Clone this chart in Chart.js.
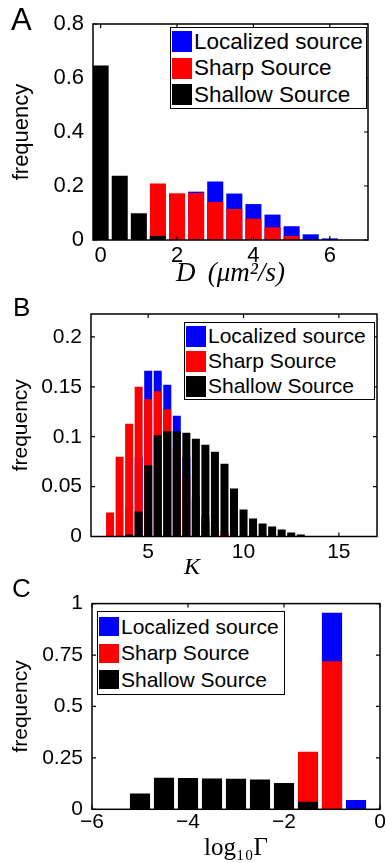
<!DOCTYPE html>
<html lang="en">
  <head>
    <meta charset="UTF-8" />
    <title>Source histograms</title>
    <style>
      body {
        margin: 0;
        background: #fff;
      }
      .wrap {
        position: relative;
        width: 386px;
        height: 863px;
      }
      .wrap canvas {
        position: absolute;
        left: 0;
      }
      .letter {
        position: absolute;
        font-family: "Liberation Sans", Arial, sans-serif;
        line-height: 1;
        color: #000;
      }
      .legend {
        position: absolute;
        box-sizing: border-box;
        background: #fff;
        border: 1.5px solid #000;
        font-family: "Liberation Sans", Arial, sans-serif;
        color: #000;
      }
      .legend ul {
        list-style: none;
        margin: 0;
        padding: 0 0 0 1px;
        height: 100%;
        display: flex;
        flex-direction: column;
        justify-content: space-evenly;
      }
      .legend li {
        display: flex;
        align-items: center;
        white-space: nowrap;
      }
      .legend .sw {
        display: inline-block;
        width: 20px;
        height: 21px;
        margin-right: 2px;
      }
      #legendA { left: 170px; top: 27px; width: 197px; height: 82px; font-size: 22.5px; }
      #legendB { left: 184px; top: 322px; width: 191px; height: 78px; font-size: 21px; }
      #legendC { left: 97px; top: 611px; width: 188px; height: 84px; font-size: 21px; }
      #legendC .sw { height: 19px; }
    </style>
    <script src="https://cdn.jsdelivr.net/npm/chart.js"></script>
  </head>
  <body>
    <div class="wrap">
      <canvas id="chartA" width="386" height="290" style="top: 0"></canvas>
      <canvas id="chartB" width="386" height="292" style="top: 290px"></canvas>
      <canvas id="chartC" width="386" height="281" style="top: 582px"></canvas>
      <div class="letter" style="left: 11px; top: 4px; font-size: 31px">A</div>
      <div class="letter" style="left: 13px; top: 294px; font-size: 26px">B</div>
      <div class="letter" style="left: 12px; top: 575px; font-size: 26px">C</div>
      <div class="legend" id="legendA"></div>
      <div class="legend" id="legendB"></div>
      <div class="legend" id="legendC"></div>
    </div>
    <script>
      const seriesNames = ["Localized source", "Sharp Source", "Shallow Source"];
      const seriesColors = ["#0000ff", "#ff0000", "#000000"];

      // A: diffusion coefficient D
      const binsA = [0, 0.5, 1, 1.5, 2, 2.5, 3, 3.5, 4, 4.5, 5, 5.5, 6];
      const localizedA = [0, 0, 0, 0.04, 0.09, 0.179, 0.217, 0.172, 0.133, 0.094, 0.051, 0.021, 0.006];
      const sharpA = [0, 0, 0, 0.209, 0.173, 0.174, 0.141, 0.115, 0.079, 0.047, 0.015, 0, 0];
      const shallowA = [0.646, 0.238, 0.099, 0.015, 0, 0, 0, 0, 0, 0, 0, 0, 0];
      const xTicksA = [0, 2, 4, 6];
      const yTicksA = [0, 0.2, 0.4, 0.6, 0.8];

      // B: K
      const binsB = [3, 3.5, 4, 4.5, 5, 5.5, 6, 6.5, 7, 7.5, 8, 8.5, 9, 9.5, 10, 10.5, 11, 11.5, 12, 12.5, 13];
      const localizedB = [0, 0, 0.03, 0.08, 0.166, 0.166, 0.152, 0.121, 0.08, 0.04, 0.015, 0.005, 0, 0, 0, 0, 0, 0, 0, 0, 0];
      const sharpB = [0.024, 0.08, 0.113, 0.15, 0.1375, 0.1455, 0.1275, 0.09, 0.06, 0.035, 0.02, 0.01, 0.005, 0, 0, 0, 0, 0, 0, 0, 0];
      const shallowB = [0, 0, 0.002, 0.025, 0.0715, 0.1015, 0.1055, 0.1055, 0.104, 0.098, 0.092, 0.085, 0.073, 0.048, 0.027, 0.018, 0.013, 0.01, 0.007, 0.004, 0.002];
      const xTicksB = [5, 10, 15];
      const yTicksB = [0, 0.05, 0.1, 0.15, 0.2];

      // C: log10 Gamma
      const binsC = [-5, -4.5, -4, -3.5, -3, -2.5, -2, -1.5, -1, -0.5];
      const localizedC = [0, 0, 0, 0, 0, 0, 0, 0, 0.955, 0.045];
      const sharpC = [0, 0, 0, 0, 0, 0, 0, 0.28, 0.72, 0];
      const shallowC = [0.077, 0.153, 0.152, 0.15, 0.149, 0.145, 0.128, 0.037, 0, 0];
      const xTicksC = [-6, -4, -2, 0];
      const yTicksC = [0, 0.25, 0.5, 0.75, 1];

      const sans = "'Liberation Sans', Arial, sans-serif";
      const serif = "'Liberation Serif', 'DejaVu Serif', serif";

      // matlab-like box with ticks pointing inwards on all four sides
      const boxAxes = {
        id: "boxAxes",
        afterDatasetsDraw(chart) {
          const { ctx, chartArea, scales } = chart;
          const { left, right, top, bottom } = chartArea;
          const len = 4;
          ctx.save();
          ctx.strokeStyle = "#000";
          ctx.lineWidth = 1.2;
          ctx.beginPath();
          scales.x.ticks.forEach((t) => {
            const px = scales.x.getPixelForValue(t.value);
            ctx.moveTo(px, bottom);
            ctx.lineTo(px, bottom - len);
            ctx.moveTo(px, top);
            ctx.lineTo(px, top + len);
          });
          scales.y.ticks.forEach((t) => {
            const py = scales.y.getPixelForValue(t.value);
            ctx.moveTo(left, py);
            ctx.lineTo(left + len, py);
            ctx.moveTo(right, py);
            ctx.lineTo(right - len, py);
          });
          ctx.stroke();
          ctx.lineWidth = 1.5;
          ctx.strokeRect(left, top, right - left, bottom - top);
          ctx.restore();
        },
      };

      // legend as html box, in dataset order
      const htmlLegend = {
        id: "htmlLegend",
        afterUpdate(chart, args, options) {
          const box = document.getElementById(options.containerID);
          box.innerHTML = "";
          const ul = document.createElement("ul");
          chart.data.datasets.forEach((ds) => {
            const li = document.createElement("li");
            const sw = document.createElement("span");
            sw.className = "sw";
            sw.style.background = ds.backgroundColor;
            li.appendChild(sw);
            li.appendChild(document.createTextNode(ds.label));
            ul.appendChild(li);
          });
          box.appendChild(ul);
        },
      };

      const minusSign = (v) => String(v).replace("-", "\u2212");

      function histChart(id, bins, series, cfg) {
        return new Chart(document.getElementById(id), {
          type: "bar",
          data: {
            labels: bins,
            datasets: series.map((vals, i) => ({
              label: seriesNames[i],
              data: vals,
              backgroundColor: seriesColors[i],
              order: 3 - i, // black on top, blue behind
              grouped: false,
              barPercentage: 0.84,
              categoryPercentage: 1,
              borderWidth: 0,
            })),
          },
          options: {
            responsive: false,
            animation: false,
            layout: { padding: cfg.padding },
            plugins: {
              legend: { display: false },
              tooltip: { enabled: false },
              htmlLegend: { containerID: cfg.legend },
            },
            scales: {
              x: {
                type: "linear",
                min: cfg.xMin,
                max: cfg.xMax,
                offset: false,
                grid: { display: false, drawTicks: false },
                border: { display: false },
                afterBuildTicks: (s) => {
                  s.ticks = cfg.xTicks.map((v) => ({ value: v }));
                },
                afterFit: (s) => {
                  s.height = cfg.xHeight;
                },
                ticks: {
                  color: "#000",
                  font: { family: sans, size: cfg.fontSize },
                  padding: cfg.xTickPad,
                  maxRotation: 0,
                  autoSkip: false,
                  callback: minusSign,
                },
                title: {
                  display: true,
                  text: cfg.xTitle,
                  color: "#000",
                  font: { family: serif, size: cfg.xTitleSize, style: cfg.xStyle },
                  padding: { top: 0, bottom: 0 },
                },
              },
              y: {
                min: 0,
                max: cfg.yMax,
                grid: { display: false, drawTicks: false },
                border: { display: false },
                afterBuildTicks: (s) => {
                  s.ticks = cfg.yTicks.map((v) => ({ value: v }));
                },
                afterFit: (s) => {
                  s.width = cfg.yWidth;
                },
                ticks: {
                  color: "#000",
                  font: { family: sans, size: cfg.fontSize },
                  padding: 9,
                  callback: (v) => String(v),
                },
                title: {
                  display: true,
                  text: "frequency",
                  color: "#000",
                  font: { family: sans, size: cfg.fontSize },
                  padding: { top: 9, bottom: 0 },
                },
              },
            },
          },
          plugins: [boxAxes, htmlLegend],
        });
      }

      histChart("chartA", binsA, [localizedA, sharpA, shallowA], {
        padding: { top: 24, right: 18, left: 0, bottom: 0 },
        xMin: -0.2, xMax: 7, yMax: 0.8,
        xTicks: xTicksA, yTicks: yTicksA,
        xHeight: 50, yWidth: 93, fontSize: 22, xTickPad: 3,
        xTitle: "D\u2009 (\u03bcm\u00b2/s)", xStyle: "italic", xTitleSize: 27,
        legend: "legendA",
      });

      // the K label sits left of centre in the original, trailing em spaces push it over
      histChart("chartB", binsB, [localizedB, sharpB, shallowB], {
        padding: { top: 24, right: 9, left: 0, bottom: 0 },
        xMin: 2, xMax: 17, yMax: 0.223,
        xTicks: xTicksB, yTicks: yTicksB,
        xHeight: 45.5, yWidth: 91, fontSize: 21, xTickPad: 3,
        xTitle: "K\u2003\u2003\u2003\u2002", xStyle: "italic", xTitleSize: 24,
        legend: "legendB",
      });

      histChart("chartC", binsC, [localizedC, sharpC, shallowC], {
        padding: { top: 19, right: 6, left: 0, bottom: 0 },
        xMin: -6, xMax: 0, yMax: 1,
        xTicks: xTicksC, yTicks: yTicksC,
        xHeight: 53.7, yWidth: 92, fontSize: 21, xTickPad: 0,
        xTitle: "log\u2081\u2080\u0393", xStyle: "normal", xTitleSize: 25,
        legend: "legendC",
      });
    </script>
  </body>
</html>
